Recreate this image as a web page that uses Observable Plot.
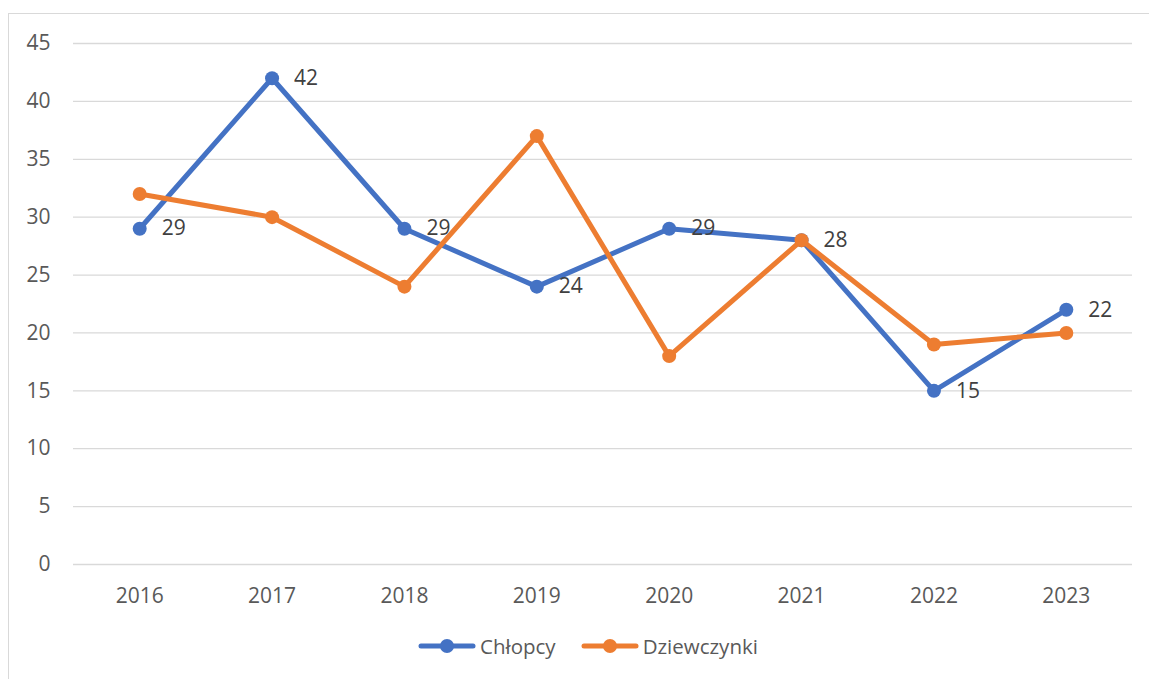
<!DOCTYPE html>
<html>
<head>
<meta charset="utf-8">
<script src="https://cdn.jsdelivr.net/npm/d3@7"></script>
<script src="https://cdn.jsdelivr.net/npm/@observablehq/plot@0.6"></script>
<style>
  html, body { margin: 0; padding: 0; background: #fff; overflow: hidden; }
  body { width: 1149px; height: 679px; position: relative; font-family: "Open Sans", sans-serif; }
  #frame { position: absolute; left: 8px; top: 13px; width: 1170px; height: 720px; border: 1.5px solid #d9d9d9; box-sizing: border-box; }
  #chart { position: absolute; left: 0; top: 0; }
  #legend { position: absolute; left: 418px; top: 632px; display: flex; align-items: center; font-size: 20.5px; color: #595959; }
  .item { display: flex; align-items: center; }
  .item svg { display: block; margin-right: 4px; }
</style>
</head>
<body>
<div id="frame"></div>
<div id="chart"></div>
<div id="legend"></div>
<script>
const years = ["2016", "2017", "2018", "2019", "2020", "2021", "2022", "2023"];
const chlopcy = [29, 42, 29, 24, 29, 28, 15, 22];
const dziewczynki = [32, 30, 24, 37, 18, 28, 19, 20];
const yTicks = [0, 5, 10, 15, 20, 25, 30, 35, 40, 45];
const seriesNames = ["Chłopcy", "Dziewczynki"];
const colors = ["#4472C4", "#ED7D31"];

const boys = years.map((y, i) => ({year: y, value: chlopcy[i]}));
const girls = years.map((y, i) => ({year: y, value: dziewczynki[i]}));

const chart = Plot.plot({
  width: 1149,
  height: 620,
  marginLeft: 73,
  marginRight: 17,
  marginTop: 43,
  marginBottom: 56,
  style: {fontFamily: "Open Sans, sans-serif", fontSize: "21px", color: "#595959", background: "transparent"},
  x: {type: "point", domain: years, padding: 0.5, round: false, label: null},
  y: {domain: [0, 45], label: null},
  marks: [
    Plot.ruleY(yTicks, {stroke: "#d9d9d9", strokeWidth: 1.3}),
    Plot.axisY({ticks: yTicks, tickSize: 0, tickPadding: 23, label: null, fill: "#595959"}),
    Plot.axisX({tickSize: 0, tickPadding: 24, label: null, fill: "#595959"}),
    Plot.line(boys, {x: "year", y: "value", stroke: colors[0], strokeWidth: 5, strokeLinecap: "round", strokeLinejoin: "round"}),
    Plot.dot(boys, {x: "year", y: "value", r: 7, fill: colors[0], stroke: "none"}),
    Plot.line(girls, {x: "year", y: "value", stroke: colors[1], strokeWidth: 5, strokeLinecap: "round", strokeLinejoin: "round"}),
    Plot.dot(girls, {x: "year", y: "value", r: 7, fill: colors[1], stroke: "none"}),
    Plot.text(boys, {x: "year", y: "value", text: d => String(d.value), dx: 22, textAnchor: "start", lineAnchor: "middle", fill: "#404040", fontSize: 21})
  ]
});
document.getElementById("chart").appendChild(chart);

const legend = document.getElementById("legend");
seriesNames.forEach((name, i) => {
  const item = document.createElement("div");
  item.className = "item";
  if (i > 0) item.style.marginLeft = "25px";
  item.innerHTML = `<svg width="58" height="16"><line x1="3" y1="8" x2="55" y2="8" stroke="${colors[i]}" stroke-width="5" stroke-linecap="round"/><circle cx="29" cy="8" r="7" fill="${colors[i]}"/></svg><span>${name}</span>`;
  legend.appendChild(item);
});
</script>
</body>
</html>
